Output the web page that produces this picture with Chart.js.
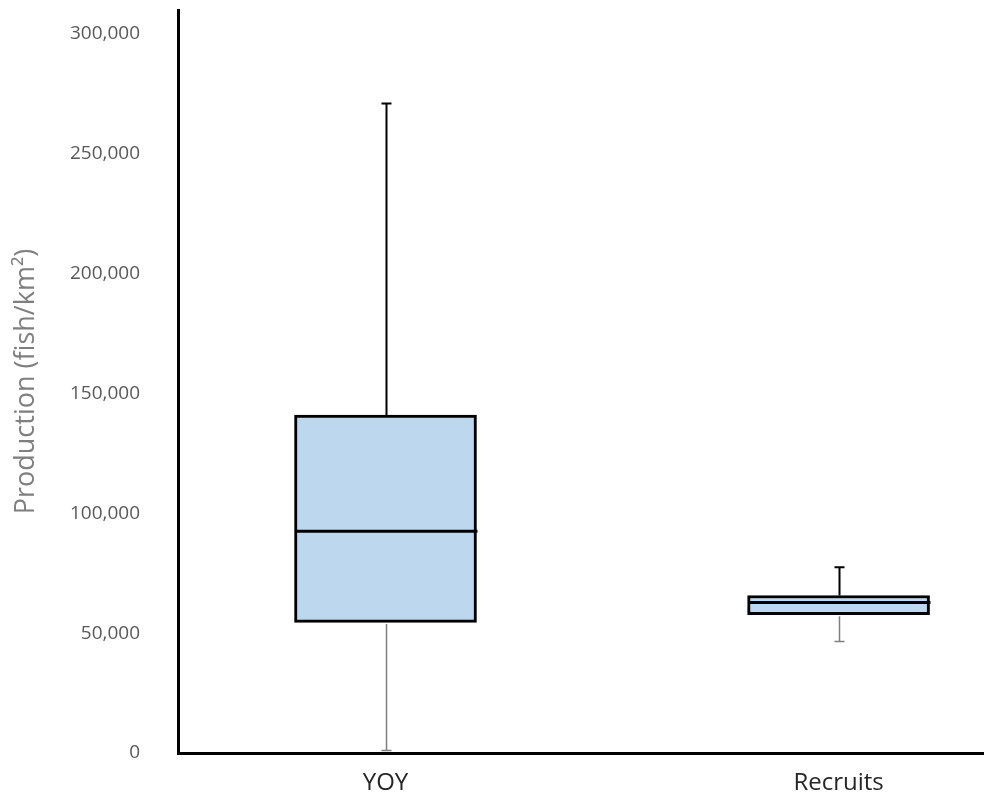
<!DOCTYPE html>
<html>
<head>
<meta charset="utf-8">
<script src="https://cdn.jsdelivr.net/npm/chart.js@4.4.0/dist/chart.umd.min.js"></script>
<style>
	html, body { margin: 0; padding: 0; background: #fff; }
	#wrap { width: 984px; height: 797px; }
</style>
</head>
<body>
<div id="wrap"><canvas id="myChart"></canvas></div>
<script>
const categories = ['YOY', 'Recruits'];
const positions = [1, 2];
const mins = [1000, 46500];
const q1s = [54500, 57700];
const medians = [92500, 62800];
const q3s = [141000, 65700];
const maxs = [271000, 77500];
const yTicks = [0, 50000, 100000, 150000, 200000, 250000, 300000];

// whiskers + median, positioned through the chart's own scales
const whiskerPlugin = {
	id: 'whiskers',
	afterDatasetsDraw(chart) {
		const ctx = chart.ctx;
		const x = chart.scales.x;
		const y = chart.scales.y;
		const bars = chart.getDatasetMeta(0).data;
		ctx.save();
		positions.forEach((p, i) => {
			const cx = Math.round(x.getPixelForValue(p)) + 0.5;
			const half = bars[i].width / 2;
			const cap = 5;

			// upper whisker
			ctx.strokeStyle = '#000';
			ctx.lineWidth = 2;
			ctx.beginPath();
			ctx.moveTo(cx, y.getPixelForValue(q3s[i]));
			ctx.lineTo(cx, y.getPixelForValue(maxs[i]));
			ctx.moveTo(cx - cap, y.getPixelForValue(maxs[i]));
			ctx.lineTo(cx + cap, y.getPixelForValue(maxs[i]));
			ctx.stroke();

			// lower whisker
			ctx.strokeStyle = '#7f7f7f';
			ctx.lineWidth = 1.5;
			ctx.beginPath();
			ctx.moveTo(cx, y.getPixelForValue(q1s[i]) + 1.5);
			ctx.lineTo(cx, y.getPixelForValue(mins[i]));
			ctx.moveTo(cx - cap, y.getPixelForValue(mins[i]));
			ctx.lineTo(cx + cap, y.getPixelForValue(mins[i]));
			ctx.stroke();

			// median
			ctx.strokeStyle = '#000';
			ctx.lineWidth = 3;
			ctx.beginPath();
			ctx.moveTo(cx - half, y.getPixelForValue(medians[i]));
			ctx.lineTo(cx + half, y.getPixelForValue(medians[i]));
			ctx.stroke();
		});
		ctx.restore();
	}
};

const ctx = document.getElementById('myChart');
const myChart = new Chart(ctx, {
	type: 'bar',
	data: {
		datasets: [{
			data: positions.map((p, i) => ({ x: p, y: [q1s[i], q3s[i]] })),
			backgroundColor: '#bdd7ee',
			borderColor: '#000',
			borderWidth: 3,
			borderSkipped: false,
			barThickness: 182
		}]
	},
	options: {
		responsive: true,
		maintainAspectRatio: false,
		animation: false,
		layout: { padding: { top: 10, right: 0, left: 0, bottom: 0 } },
		plugins: {
			legend: { display: false },
			tooltip: { enabled: false }
		},
		scales: {
			x: {
				type: 'linear',
				offset: false,
				min: 0.542,
				max: 2.321,
				afterBuildTicks: (scale) => { scale.ticks = positions.map(v => ({ value: v })); },
				afterFit: (scale) => {
					scale.height = 44;
					scale.paddingLeft = 0;
					scale.paddingRight = 0;
				},
				grid: { display: false, drawTicks: false },
				border: { color: '#000', width: 3 },
				ticks: {
					padding: 16,
					color: '#262626',
					font: { family: 'Open Sans', size: 24 },
					callback: (v) => categories[positions.indexOf(v)]
				}
			},
			y: {
				min: 0,
				max: 310000,
				afterBuildTicks: (scale) => { scale.ticks = yTicks.map(v => ({ value: v })); },
				afterFit: (scale) => {
					scale.width = 178;
					scale.paddingTop = 0;
					scale.paddingBottom = 0;
				},
				grid: { display: false, drawTicks: false },
				border: { color: '#000', width: 3 },
				ticks: {
					padding: 38,
					color: '#595959',
					font: { family: 'Open Sans', size: 19 },
					callback: (v) => v.toLocaleString('en-US')
				},
				title: {
					display: true,
					text: 'Production (fish/km²)',
					color: '#7f7f7f',
					font: { family: 'Open Sans', size: 27 },
					padding: { top: 10, bottom: 0 }
				}
			}
		}
	},
	plugins: [whiskerPlugin]
});
</script>
</body>
</html>
